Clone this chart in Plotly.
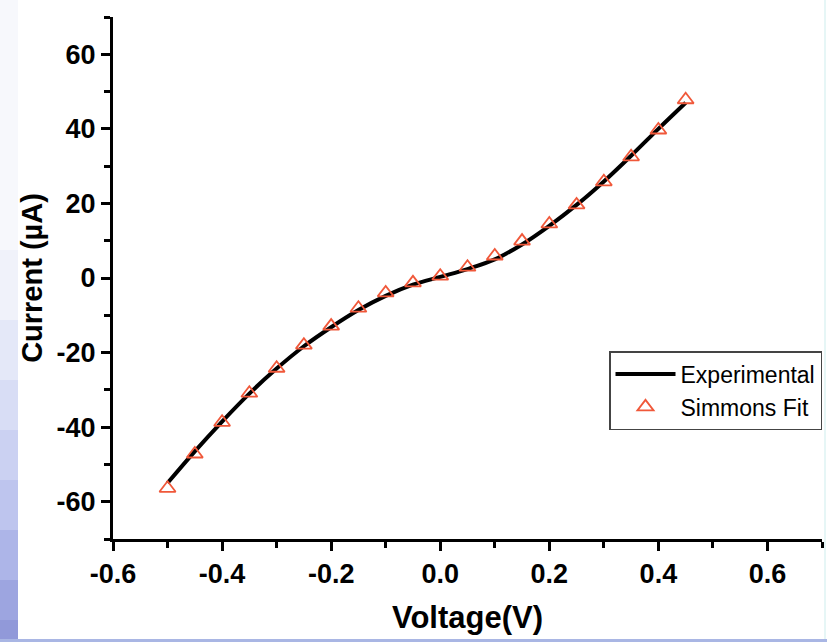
import plotly.graph_objects as go

# ---- data ----
voltage = [-0.50, -0.45, -0.40, -0.35, -0.30, -0.25, -0.20, -0.15, -0.10, -0.05,
           0.00, 0.05, 0.10, 0.15, 0.20, 0.25, 0.30, 0.35, 0.40, 0.45]
current_exp = [-55.0, -46.5, -38.5, -31.0, -24.3, -18.3, -13.2, -8.6, -4.8, -1.8,
               0.3, 2.4, 5.0, 9.0, 14.0, 19.6, 25.9, 32.8, 40.0, 47.0]
current_fit = [-56.4, -47.2, -38.7, -30.9, -24.2, -18.0, -12.9, -8.1, -4.0, -1.3,
               0.5, 2.9, 5.9, 9.9, 14.5, 19.6, 25.8, 32.5, 39.7, 47.8]
x_ticks = [-0.6, -0.4, -0.2, 0.0, 0.2, 0.4, 0.6]
x_ticktext = ["-0.6", "-0.4", "-0.2", "0.0", "0.2", "0.4", "0.6"]
y_ticks = [-60, -40, -20, 0, 20, 40, 60]
y_ticktext = ["-60", "-40", "-20", "0", "20", "40", "60"]

W, H = 827, 642
L, R, T, B = 113, 5, 17, 103
pw, ph = W - L - R, H - T - B

FONT = "Liberation Sans, Arial, sans-serif"

fig = go.Figure()
fig.add_trace(go.Scatter(
    x=voltage, y=current_exp, mode="lines", name="Experimental",
    line=dict(color="black", width=4, shape="spline"),
))
fig.add_trace(go.Scatter(
    x=voltage, y=current_fit, mode="markers", name="Simmons Fit",
    marker=dict(symbol="triangle-up-open", size=14, color="#f0583a",
                line=dict(width=1.8, color="#f0583a")),
))

# slide background strips (left gradient, bottom band)
shapes = []
def px2x(px):
    return (px - L) / pw
def px2y(py):
    return (H - B - py) / ph

bands = [
    (0, 250, "#f7f8fc"), (250, 320, "#f0f2fa"), (320, 380, "#e4e8f8"),
    (380, 430, "#d8ddf5"), (430, 480, "#cbd1f2"), (480, 530, "#bec5ee"),
    (530, 580, "#adb5e8"), (580, 620, "#9da5e0"), (620, 642, "#9199d9"),
]
for y0, y1, c in bands:
    shapes.append(dict(type="rect", xref="paper", yref="paper",
                       x0=px2x(0), x1=px2x(18), y0=px2y(y1), y1=px2y(y0),
                       fillcolor=c, line=dict(width=0), layer="below"))
shapes.append(dict(type="rect", xref="paper", yref="paper",
                   x0=px2x(0), x1=px2x(W), y0=px2y(642), y1=px2y(639),
                   fillcolor="#a9b6e4", line=dict(width=0), layer="below"))
shapes.append(dict(type="rect", xref="paper", yref="paper",
                   x0=px2x(824), x1=px2x(826), y0=px2y(639), y1=px2y(0),
                   fillcolor="#e6f6f6", line=dict(width=0), layer="below"))

axis_common = dict(
    showline=True, linecolor="black", linewidth=3, mirror=False,
    showgrid=False, zeroline=False,
    ticks="outside", ticklen=9, tickwidth=3, tickcolor="black",
    tickfont=dict(family=FONT, size=27, color="black", weight="bold"),
)

fig.update_layout(
    width=W, height=H,
    margin=dict(l=L, r=R, t=T, b=B),
    paper_bgcolor="white", plot_bgcolor="white",
    shapes=shapes,
    showlegend=True,
    legend=dict(
        x=1.0, xanchor="right", y=px2y(351), yanchor="top",
        bgcolor="white", bordercolor="#444444", borderwidth=1.5,
        font=dict(family=FONT, size=23, color="black"),
        itemwidth=60, tracegroupgap=0,
    ),
    xaxis=dict(
        range=[-0.6, 0.7],
        tickmode="array", tickvals=x_ticks, ticktext=x_ticktext,
        minor=dict(dtick=0.1, ticks="outside", ticklen=6, tickwidth=3, tickcolor="black"),
        title=dict(text="Voltage(V)", standoff=18,
                   font=dict(family=FONT, size=31, color="black", weight="bold")),
        **axis_common,
    ),
    yaxis=dict(
        range=[-70, 70],
        tickmode="array", tickvals=y_ticks, ticktext=y_ticktext,
        minor=dict(tick0=-70, dtick=10, ticks="outside", ticklen=6, tickwidth=3, tickcolor="black"),
        title=dict(text="Current (µA)", standoff=6,
                   font=dict(family=FONT, size=29, color="black", weight="bold")),
        **axis_common,
    ),
)

fig.write_html("out.html")
